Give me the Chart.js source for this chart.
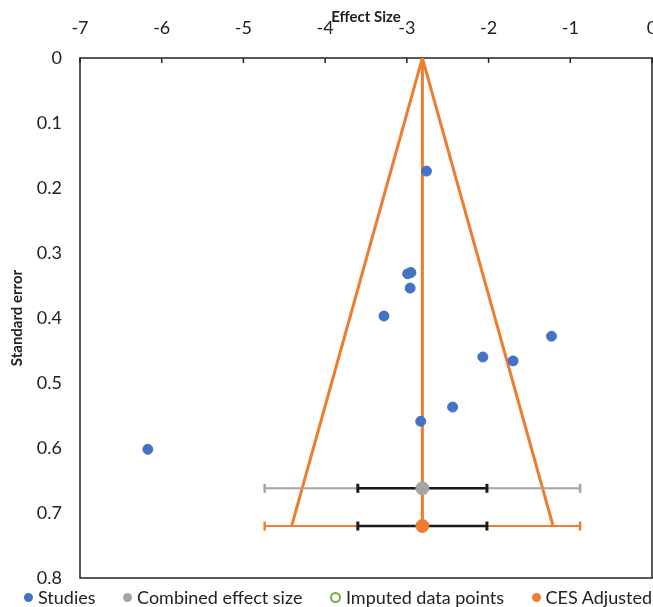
<!DOCTYPE html>
<html>
<head>
<meta charset="utf-8">
<script src="https://cdn.jsdelivr.net/npm/chart.js@4/dist/chart.umd.min.js"></script>
<style>
  html, body { margin: 0; padding: 0; background: #fff; overflow: hidden; }
  #wrap { position: relative; width: 660px; height: 607px; }
  #funnelChart { display: block; }
  #legend {
    position: absolute; left: 24px; top: 585px; width: 628px; height: 24px;
    display: flex; justify-content: space-between; align-items: center;
    font-family: Lato, "Open Sans", sans-serif; font-size: 18px; color: #222;
    line-height: 24px; white-space: nowrap;
  }
  #legend .item { display: flex; align-items: center; }
  #legend .dot { display: inline-block; width: 9px; height: 9px; border-radius: 50%; margin-right: 5px; box-sizing: border-box; }
</style>
</head>
<body>
<div id="wrap">
  <canvas id="funnelChart" width="660" height="607"></canvas>
  <div id="legend"></div>
</div>
<script>
// studies: effect size (x) and standard error (y)
const studyES = [-2.76, -2.99, -2.95, -2.96, -3.28, -1.23, -2.07, -1.70, -2.44, -2.83, -6.17];
const studySE = [0.174, 0.332, 0.330, 0.354, 0.397, 0.428, 0.460, 0.466, 0.537, 0.559, 0.602];

// combined effect size and the adjusted one
const cesValue = -2.81;
const cesSE = [0.662, 0.72];          // combined, adjusted
const wideCI = [-4.74, -0.88];        // outer interval
const narrowCI = [-3.60, -2.02];      // inner interval (black)

// funnel outline
const funnelES = [-4.41, -2.81, -1.21];
const funnelSE = [0.72, 0, 0.72];

const xTicks = [-7, -6, -5, -4, -3, -2, -1, 0];
const yTicks = ['0', '0.1', '0.2', '0.3', '0.4', '0.5', '0.6', '0.7', '0.8'];

const blue = '#4472C4', grey = '#A5A5A5', orange = '#ED7D31', green = '#70AD47', black = '#1a1a1a';

function pts(xs, ys) {
  return xs.map((x, i) => ({ x: x, y: ys[i] }));
}

function ciLine(range, y, color, width, order) {
  return {
    label: 'ci',
    data: [{ x: range[0], y: y }, { x: range[1], y: y }],
    showLine: true,
    borderColor: color,
    borderWidth: width,
    pointStyle: 'line',
    rotation: 90,
    pointRadius: 4.5,
    pointBorderColor: color,
    pointBorderWidth: width + 0.5,
    order: order
  };
}

const framePlugin = {
  id: 'frame',
  beforeDatasetsDraw(chart) {
    const ctx = chart.ctx;
    const a = chart.chartArea;
    const x = chart.scales.x;
    ctx.save();
    ctx.strokeStyle = '#222';
    ctx.lineWidth = 1.5;
    ctx.strokeRect(a.left, a.top, a.right - a.left, a.bottom - a.top);
    ctx.beginPath();
    x.ticks.forEach(t => {
      const px = x.getPixelForValue(t.value);
      ctx.moveTo(px, a.top);
      ctx.lineTo(px, a.top + 5);
    });
    ctx.stroke();
    ctx.restore();
  }
};

Chart.defaults.font.family = 'Lato, "Open Sans", sans-serif';
Chart.defaults.color = '#222';

const chart = new Chart(document.getElementById('funnelChart'), {
  type: 'scatter',
  data: {
    datasets: [
      {
        label: 'Studies',
        data: pts(studyES, studySE),
        backgroundColor: blue,
        borderColor: blue,
        pointRadius: 5,
        order: 1
      },
      {
        label: 'Combined effect size',
        data: [{ x: cesValue, y: cesSE[0] }],
        backgroundColor: grey,
        borderColor: grey,
        pointRadius: 6.5,
        order: 2
      },
      {
        label: 'Imputed data points',
        data: [],
        backgroundColor: '#fff',
        borderColor: green,
        borderWidth: 2,
        order: 3
      },
      {
        label: 'CES Adjusted',
        data: [{ x: cesValue, y: cesSE[1] }],
        backgroundColor: orange,
        borderColor: orange,
        pointRadius: 6.5,
        order: 4
      },
      ciLine(narrowCI, cesSE[0], black, 2.5, 5),
      ciLine(narrowCI, cesSE[1], black, 2.5, 5),
      ciLine(wideCI, cesSE[0], grey, 2, 6),
      ciLine(wideCI, cesSE[1], orange, 2, 6),
      {
        label: 'funnel',
        data: pts(funnelES, funnelSE),
        showLine: true,
        borderColor: orange,
        borderWidth: 3,
        pointRadius: 0,
        order: 7
      },
      {
        label: 'centre',
        data: [{ x: cesValue, y: 0 }, { x: cesValue, y: cesSE[1] }],
        showLine: true,
        borderColor: orange,
        borderWidth: 3,
        pointRadius: 0,
        order: 7
      }
    ]
  },
  options: {
    responsive: false,
    animation: false,
    layout: {
      padding: { top: 0, left: 0, right: 8, bottom: 29 }
    },
    plugins: {
      tooltip: { enabled: false },
      legend: { display: false }
    },
    scales: {
      x: {
        type: 'linear',
        position: 'top',
        min: -7,
        max: 0,
        afterBuildTicks: axis => { axis.ticks = xTicks.map(v => ({ value: v })); },
        afterFit: axis => {
          axis.height = 58;
          axis.paddingLeft = 0;
          axis.paddingRight = 0;
        },
        grid: { display: false, drawTicks: false },
        border: { display: false },
        ticks: {
          font: { size: 18 },
          padding: 19,
          maxRotation: 0
        },
        title: {
          display: true,
          text: 'Effect Size',
          font: { size: 15, weight: 'bold' },
          padding: { top: 8, bottom: 0 }
        }
      },
      y: {
        type: 'linear',
        reverse: true,
        min: 0,
        max: 0.8,
        afterBuildTicks: axis => { axis.ticks = yTicks.map(v => ({ value: Number(v) })); },
        afterFit: axis => {
          axis.width = 80;
          axis.paddingTop = 0;
          axis.paddingBottom = 0;
        },
        grid: { display: false, drawTicks: false },
        border: { display: false },
        ticks: {
          font: { size: 18 },
          padding: 18,
          callback: (v, i) => yTicks[i]
        },
        title: {
          display: true,
          text: 'Standard error',
          font: { size: 15, weight: 'bold' },
          padding: { top: 8, bottom: 0 }
        }
      }
    }
  },
  plugins: [framePlugin]
});

// legend below the plot, built from the first four datasets
const legendEl = document.getElementById('legend');
chart.data.datasets.slice(0, 4).forEach(ds => {
  const item = document.createElement('span');
  item.className = 'item';
  const dot = document.createElement('span');
  dot.className = 'dot';
  dot.style.background = ds.backgroundColor;
  if (ds.backgroundColor === '#fff') {
    dot.style.border = '2px solid ' + ds.borderColor;
    dot.style.width = '11px';
    dot.style.height = '11px';
  }
  item.appendChild(dot);
  item.appendChild(document.createTextNode(ds.label));
  legendEl.appendChild(item);
});
</script>
</body>
</html>
